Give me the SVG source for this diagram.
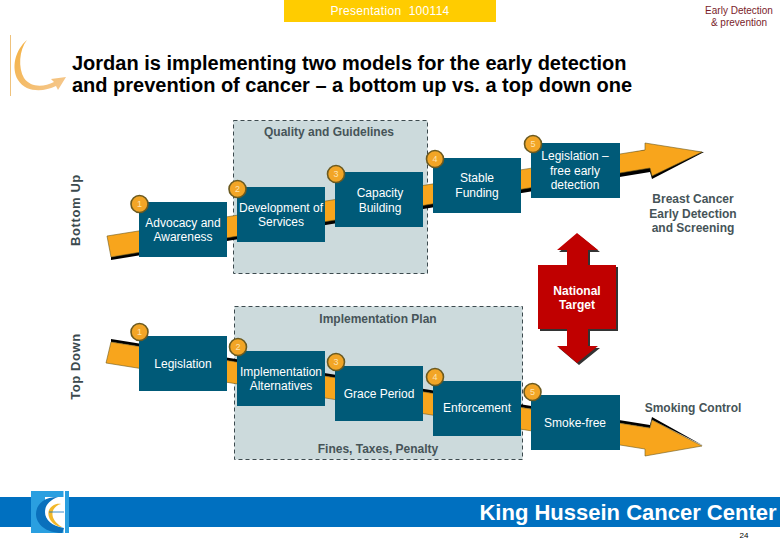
<svg xmlns="http://www.w3.org/2000/svg" width="780" height="540" viewBox="0 0 780 540">
<defs>
<linearGradient id="sw" x1="0" y1="0" x2="1" y2="1"><stop offset="0" stop-color="#f4b040"/><stop offset="1" stop-color="#f5c890"/></linearGradient>
</defs>
<style>
text{font-family:"Liberation Sans",Arial,sans-serif}
.box{fill:#005a78}
.bt{fill:#fff;font-size:12px;text-anchor:middle}
.lab{fill:#465458;font-size:12px;text-anchor:middle;font-weight:bold}
.panel{fill:#ccdadc;stroke:#3c4a4e;stroke-width:1;stroke-dasharray:4 3}
.arrow{fill:#f8a51c;stroke:#6b5a20;stroke-width:.6}
.shadow{fill:#000}
.badge{fill:#f2a526;stroke:#6b5a20;stroke-width:1.6}
.bn{fill:#fde3b0;font-size:9px;text-anchor:middle}
.title{fill:#000;font-size:20px;font-weight:bold}
.side{fill:#3c4a4e;font-size:13px;font-weight:bold;text-anchor:middle;letter-spacing:.6px}
</style>
<rect width="780" height="540" fill="#fff"/>
<g id="header">
<rect x="284" y="0" width="212" height="22" fill="#ffcc00"/>
<text x="390" y="15" fill="#fff" font-size="12" letter-spacing=".3" text-anchor="middle" xml:space="preserve">Presentation  100114</text>
<text x="739" y="13.500" fill="#7a1c2a" font-size="10" text-anchor="middle">Early Detection</text>
<text x="739" y="25.500" fill="#7a1c2a" font-size="10" text-anchor="middle">&amp; prevention</text>
</g>
<g id="swoosh">
<path d="M10.500 35V96" stroke="#efc27c" stroke-width="1" fill="none"/>
<path d="M27 40C19 50 18 68 24 78C31 88 44 87 54 82L51 79L66 77L58 90L56 86C44 92 26 93 18 80C11 68 15 50 27 40Z" fill="url(#sw)"/>
</g>
<g id="title">
<text class="title" x="72" y="70">Jordan is implementing two models for the early detection</text>
<text class="title" x="72" y="92">and prevention of cancer – a bottom up vs. a top down one</text>
</g>
<g id="panels">
<rect id="panel-quality" class="panel" x="233.500" y="120.500" width="194" height="153"/>
<rect id="panel-implementation" class="panel" x="234.500" y="306.500" width="288" height="153"/>
</g>
<g id="connectors">
<polygon class="shadow" points="111,260 650,172 652,179 704,152 645,150 111,257"/>
<polygon class="arrow" points="107,236 645,150 645,143 702,152 652,176 650,168 111,257"/>
<polygon class="shadow" points="111,339 650,425 652,417 704,446 652,420 650,428 111,342"/>
<polygon class="arrow" points="111,342 650,428 652,420 702,446 645,456 645,449 106,363"/>
</g>
<g id="node-advocacy"><rect class="box" x="139" y="202" width="88" height="55"/><text class="bt" x="183" y="227">Advocacy and</text><text class="bt" x="183" y="241">Awareness</text><circle class="badge" cx="139.500" cy="204" r="8.500"/><text class="bn" x="139.500" y="207">1</text></g>
<g id="node-development"><rect class="box" x="237" y="187" width="88" height="55"/><text class="bt" x="281" y="212">Development of</text><text class="bt" x="281" y="226">Services</text><circle class="badge" cx="237.500" cy="189" r="8.500"/><text class="bn" x="237.500" y="192">2</text></g>
<g id="node-capacity"><rect class="box" x="335" y="172" width="88" height="55"/><text class="bt" x="380" y="197">Capacity</text><text class="bt" x="380" y="212">Building</text><circle class="badge" cx="336" cy="174" r="8.500"/><text class="bn" x="336" y="177">3</text></g>
<g id="node-stable"><rect class="box" x="433" y="158" width="88" height="55"/><text class="bt" x="477" y="182">Stable</text><text class="bt" x="477" y="197">Funding</text><circle class="badge" cx="435" cy="159" r="8.500"/><text class="bn" x="435" y="162">4</text></g>
<g id="node-legislation-free"><rect class="box" x="531" y="143" width="89" height="55"/><text class="bt" x="575" y="160">Legislation –</text><text class="bt" x="575" y="175">free early</text><text class="bt" x="575" y="189">detection</text><circle class="badge" cx="533" cy="144" r="8.500"/><text class="bn" x="533" y="147">5</text></g>
<g id="node-breast"><text class="lab" x="693" y="203">Breast Cancer</text><text class="lab" x="693" y="218">Early Detection</text><text class="lab" x="693" y="232">and Screening</text></g>
<g id="node-quality-label"><text class="lab" x="329" y="136">Quality and Guidelines</text></g>
<g id="node-national">
<path d="M579 235L600 252H590V267H618V331H590V348H600L579 365L559 348H569V331H540V267H569V252H559Z" fill="#333"/>
<path d="M577 233L598 250H588V265H616V329H588V346H598L577 363L557 346H567V329H538V265H567V250H557Z" fill="#c00000"/>
<text x="577" y="295" fill="#fff" font-size="12" font-weight="bold" text-anchor="middle">National</text>
<text x="577" y="309" fill="#fff" font-size="12" font-weight="bold" text-anchor="middle">Target</text>
</g>
<g id="node-impl-label"><text class="lab" x="378" y="323">Implementation Plan</text></g>
<g id="node-legislation"><rect class="box" x="139" y="336" width="88" height="55"/><text class="bt" x="183" y="368">Legislation</text><circle class="badge" cx="139.500" cy="332" r="8.500"/><text class="bn" x="139.500" y="335">1</text></g>
<g id="node-alternatives"><rect class="box" x="237" y="351" width="88" height="55"/><text class="bt" x="281" y="376">Implementation</text><text class="bt" x="281" y="390">Alternatives</text><circle class="badge" cx="238" cy="347" r="8.500"/><text class="bn" x="238" y="350">2</text></g>
<g id="node-grace"><rect class="box" x="335" y="366" width="88" height="55"/><text class="bt" x="379" y="398">Grace Period</text><circle class="badge" cx="336" cy="362" r="8.500"/><text class="bn" x="336" y="365">3</text></g>
<g id="node-enforcement"><rect class="box" x="433" y="381" width="88" height="55"/><text class="bt" x="477" y="412">Enforcement</text><circle class="badge" cx="435" cy="377" r="8.500"/><text class="bn" x="435" y="380">4</text></g>
<g id="node-smoke"><rect class="box" x="531" y="395" width="89" height="55"/><text class="bt" x="575" y="427">Smoke-free</text><circle class="badge" cx="532.500" cy="392" r="8.500"/><text class="bn" x="532.500" y="395">5</text></g>
<g id="node-smoking"><text class="lab" x="693" y="412">Smoking Control</text></g>
<g id="node-fines"><text class="lab" x="378" y="453">Fines, Taxes, Penalty</text></g>
<g id="sides">
<text class="side" transform="translate(80 210) rotate(-90)">Bottom Up</text>
<text class="side" transform="translate(80 366.500) rotate(-90)">Top Down</text>
</g>
<g id="footer">
<rect x="0" y="497" width="780" height="30" fill="#0070c0"/>
<rect x="31" y="491" width="38" height="42" fill="#2a9fe0"/>
<rect x="45" y="497" width="20" height="31" fill="#fff"/>
<rect x="63.500" y="491" width="1.500" height="42" fill="#fff"/>
<path d="M58 497C42 497 36 506 36 514C36 524 46 533 62 533L64 528C52 526 45 520 45 512C45 505 50 500 58 497Z" fill="#0a70bc"/>
<path d="M61 504C52 506 47 518 62 527C54 527 46 518 49 510C51 506 56 503 61 504Z" fill="#f2b82a"/>
<path d="M49 512H64" stroke="#0a70bc" stroke-width=".8"/>
<text x="628" y="520" fill="#fff" font-size="22" font-weight="bold" text-anchor="middle">King Hussein Cancer Center</text>
<text x="744" y="538" fill="#000" font-size="8" text-anchor="middle">24</text>
</g>
</svg>
